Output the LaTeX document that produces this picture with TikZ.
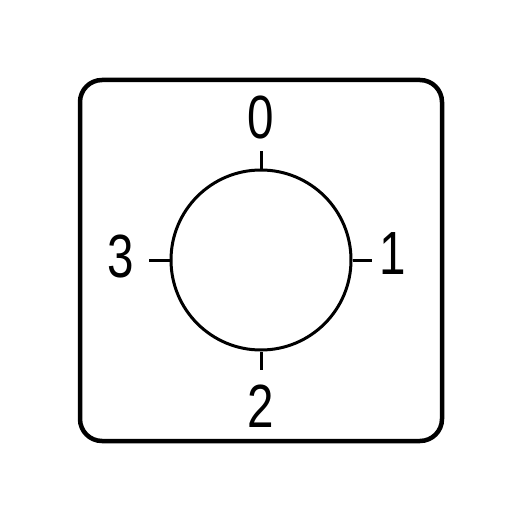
\documentclass[tikz,border=0pt]{standalone}
\usepackage{fontspec}
\setmainfont{Liberation Sans}
\begin{document}
\begin{tikzpicture}[x=1pt,y=-1pt,
  frame/.style={line width=4.5pt,rounded corners=22pt},
  dial/.style={line width=3pt},
  tick/.style={line width=3pt},
  lbl/.style={inner sep=0pt,font=\fontsize{61}{61}\selectfont}]
\useasboundingbox (0,0) rectangle (524,524);
\draw[frame] (80,80) rectangle (442,441);
\node[dial,draw,circle,minimum size=180pt,inner sep=0pt] (c) at (261,260) {};
\coordinate (t0) at (261,151);
\coordinate (t1) at (372,260);
\coordinate (t2) at (261,370);
\coordinate (t3) at (149,260);
\draw[tick] (c.north) -- (t0);
\draw[tick] (c.east) -- (t1);
\draw[tick] (c.south) -- (t2);
\draw[tick] (c.west) -- (t3);
\node[lbl] (l0) at (261,118) {\scalebox{0.78}[1]{0}};
\node[lbl] (l1) at (393,254) {\scalebox{0.78}[1]{1}};
\node[lbl] (l2) at (261,406) {\scalebox{0.78}[1]{2}};
\node[lbl] (l3) at (121,256) {\scalebox{0.78}[1]{3}};
\end{tikzpicture}
\end{document}
